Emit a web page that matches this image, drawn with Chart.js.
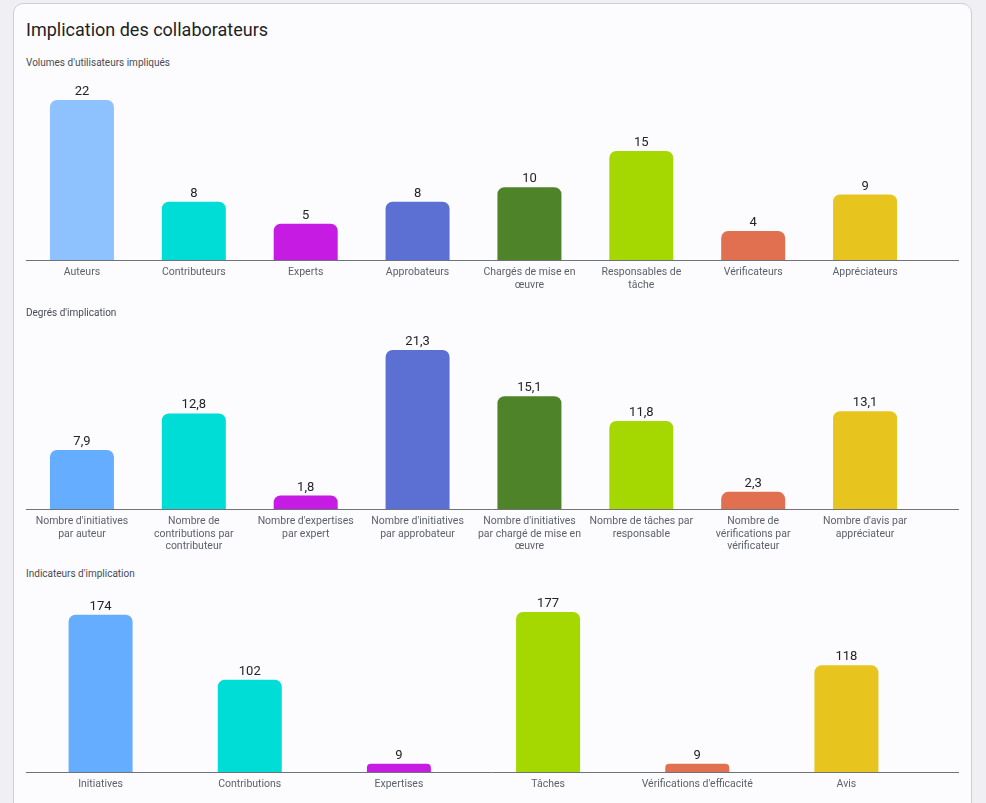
<!DOCTYPE html>
<html lang="fr">
<head>
<meta charset="utf-8">
<title>Implication des collaborateurs</title>
<script src="https://cdn.jsdelivr.net/npm/chart.js@4.4.1/dist/chart.umd.min.js"></script>
<style>
  html, body { margin: 0; padding: 0; width: 986px; height: 803px; overflow: hidden; background: #f0f0f4; font-family: Roboto, sans-serif; }
  .card { position: absolute; left: 13px; top: 3px; width: 957px; height: 840px; background: #fcfcff; border: 1px solid #cdced6; border-radius: 10px; }
  .title { position: absolute; left: 26px; top: 21px; font-size: 18px; line-height: 18px; color: #1e1f24; white-space: nowrap; }
  .sub { position: absolute; left: 26px; font-size: 10px; line-height: 10px; color: #474b55; white-space: nowrap; }
  .box { position: absolute; left: 26px; width: 933px; }
</style>
</head>
<body>
<div class="card"></div>
<div class="title">Implication des collaborateurs</div>

<div class="sub" style="top:57.5px">Volumes d'utilisateurs impliqués</div>
<div class="box" style="top:70px;height:238px"><canvas id="chart1"></canvas></div>

<div class="sub" style="top:307.5px">Degrés d'implication</div>
<div class="box" style="top:320px;height:237px"><canvas id="chart2"></canvas></div>

<div class="sub" style="top:569px">Indicateurs d'implication</div>
<div class="box" style="top:582px;height:238px"><canvas id="chart3"></canvas></div>

<script>
// --- data ---
var volumeLabels = ["Auteurs", "Contributeurs", "Experts", "Approbateurs", "Chargés de mise en œuvre", "Responsables de tâche", "Vérificateurs", "Appréciateurs"];
var volumeValues = [22, 8, 5, 8, 10, 15, 4, 9];
var volumeColors = ["#8ec2ff", "#00dcd6", "#c51be3", "#5c70d4", "#4e8329", "#a4d800", "#e07050", "#e8c41e"];

var degreLabels = ["Nombre d'initiatives par auteur", "Nombre de contributions par contributeur", "Nombre d'expertises par expert", "Nombre d'initiatives par approbateur", "Nombre d'initiatives par chargé de mise en œuvre", "Nombre de tâches par responsable", "Nombre de vérifications par vérificateur", "Nombre d'avis par appréciateur"];
var degreValues = [7.9, 12.8, 1.8, 21.3, 15.1, 11.8, 2.3, 13.1];
var degreColors = ["#64adff", "#00dcd6", "#c51be3", "#5c70d4", "#4e8329", "#a4d800", "#e07050", "#e8c41e"];

var indicLabels = ["Initiatives", "Contributions", "Expertises", "Tâches", "Vérifications d'efficacité", "Avis"];
var indicValues = [174, 102, 9, 177, 9, 118];
var indicColors = ["#64adff", "#00dcd6", "#c51be3", "#a4d800", "#e07050", "#e8c41e"];

Chart.defaults.font.family = "Roboto, sans-serif";

var tickFont = { family: "Roboto, sans-serif", size: 10.5, lineHeight: 1.2 };

// wrap long category names on several lines
function wrap(labels, maxWidth) {
  var ctx = document.createElement("canvas").getContext("2d");
  ctx.font = tickFont.size + "px " + tickFont.family;
  return labels.map(function(label) {
    var words = label.split(" ");
    var lines = [];
    var line = "";
    words.forEach(function(w) {
      var test = line ? line + " " + w : w;
      if (line && ctx.measureText(test).width > maxWidth) {
        lines.push(line);
        line = w;
      } else {
        line = test;
      }
    });
    lines.push(line);
    return lines.length > 1 ? lines : lines[0];
  });
}

// value above each bar + baseline line across the block
var barDecor = {
  id: "barDecor",
  afterDatasetsDraw: function(chart) {
    var ctx = chart.ctx;
    var area = chart.chartArea;
    ctx.save();
    ctx.strokeStyle = "#70727c";
    ctx.lineWidth = 1;
    ctx.beginPath();
    ctx.moveTo(area.left, Math.round(area.bottom) + 0.5);
    ctx.lineTo(chart.width, Math.round(area.bottom) + 0.5);
    ctx.stroke();

    ctx.fillStyle = "#222327";
    ctx.font = "13px Roboto, sans-serif";
    ctx.textAlign = "center";
    ctx.textBaseline = "alphabetic";
    var meta = chart.getDatasetMeta(0);
    var values = chart.data.datasets[0].data;
    meta.data.forEach(function(bar, i) {
      ctx.fillText(String(values[i]).replace(".", ","), bar.x, bar.y - 5);
    });
    ctx.restore();
  }
};

function makeChart(id, labels, values, colors) {
  // usable width for one category label
  var slot = (933 - 38) / labels.length * 0.93;
  return new Chart(document.getElementById(id), {
    type: "bar",
    data: {
      labels: wrap(labels, slot),
      datasets: [{
        data: values,
        backgroundColor: colors,
        borderRadius: { topLeft: 7, topRight: 7 },
        borderSkipped: "bottom",
        maxBarThickness: 64
      }]
    },
    options: {
      responsive: true,
      maintainAspectRatio: false,
      animation: false,
      layout: { padding: { top: 30, right: 38, left: 0, bottom: 0 } },
      plugins: { legend: { display: false }, tooltip: { enabled: false } },
      scales: {
        x: {
          grid: { display: false, drawTicks: false },
          border: { display: false },
          ticks: { autoSkip: false, maxRotation: 0, padding: 6, color: "#5d616b", font: tickFont },
          afterFit: function(scale) { scale.height = 48; }
        },
        y: {
          display: false,
          min: 0,
          max: Math.max.apply(null, values)
        }
      }
    },
    plugins: [barDecor]
  });
}

var chart1 = makeChart("chart1", volumeLabels, volumeValues, volumeColors);
var chart2 = makeChart("chart2", degreLabels, degreValues, degreColors);
var chart3 = makeChart("chart3", indicLabels, indicValues, indicColors);
</script>
</body>
</html>
